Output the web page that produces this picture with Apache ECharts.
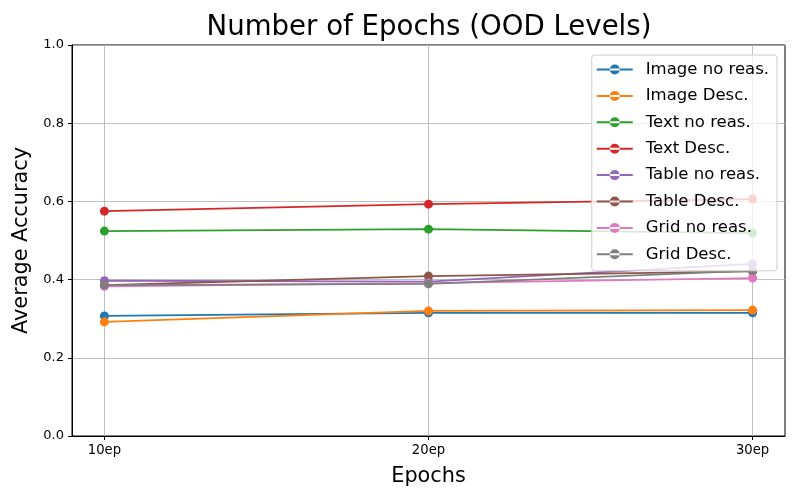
<!DOCTYPE html>
<html><head><meta charset="utf-8">
<script src="https://cdn.jsdelivr.net/npm/echarts@6/dist/echarts.min.js"></script>
<style>html,body{margin:0;padding:0;background:#fff}#c{width:800px;height:500px}</style>
</head><body><div id="c"></div>
<script>
const epochs = [10, 20, 30];
const tickLabels = ['10ep', '20ep', '30ep'];
const seriesNames = ['Image no reas.', 'Image Desc.', 'Text no reas.', 'Text Desc.', 'Table no reas.', 'Table Desc.', 'Grid no reas.', 'Grid Desc.'];
const imageNoReas = [0.307, 0.315, 0.315];
const imageDesc = [0.292, 0.320, 0.322];
const textNoReas = [0.524, 0.529, 0.519];
const textDesc = [0.575, 0.593, 0.606];
const tableNoReas = [0.397, 0.395, 0.440];
const tableDesc = [0.386, 0.409, 0.421];
const gridNoReas = [0.383, 0.391, 0.404];
const gridDesc = [0.386, 0.389, 0.423];
const colors = ['#1f77b4', '#ff7f0e', '#2ca02c', '#d62728', '#9467bd', '#8c564b', '#e377c2', '#7f7f7f'];
const allValues = [imageNoReas, imageDesc, textNoReas, textDesc, tableNoReas, tableDesc, gridNoReas, gridDesc];

const chart = echarts.init(document.getElementById('c'), null, {renderer: 'canvas'});
const font = 'DejaVu Sans';
const series = seriesNames.map((n, i) => ({
  name: n, type: 'line',
  data: epochs.map((e, j) => [e, allValues[i][j]]),
  symbol: 'circle', symbolSize: 9,
  lineStyle: {width: 1.8, color: colors[i]},
  itemStyle: {color: colors[i]},
  z: 3
}));
series[0].markLine = {
  silent: true, symbol: 'none', label: {show: false},
  lineStyle: {color: '#b0b0b0', width: 0.8, type: 'solid'},
  data: epochs.map(e => ({xAxis: e})),
  z: 1
};
chart.setOption({
  animation: false,
  color: colors,
  title: {text: 'Number of Epochs (OOD Levels)', left: 424, top: 9, textAlign: 'center',
    textStyle: {fontFamily: font, fontSize: 27.6, fontWeight: 'normal', color: '#000'}},
  grid: {left: 72, right: 15, top: 45, bottom: 64, show: true, borderColor: '#000', borderWidth: 1, backgroundColor: 'transparent'},
  legend: {
    right: 23, top: 55, orient: 'vertical', itemGap: 9.4, itemWidth: 36, itemHeight: 16,
    backgroundColor: 'rgba(255,255,255,0.8)', borderColor: '#cccccc', borderWidth: 1, borderRadius: 3,
    padding: [6, 8, 8, 5],
    textStyle: {fontFamily: font, fontSize: 16.5, color: '#000', padding: [0, 0, 0, 8]},
    icon: 'path://M0,7 L36,7 L36,9 L0,9 Z M13,8 A5,5 0 1,0 23,8 A5,5 0 1,0 13,8 Z',
    z: 10
  },
  xAxis: {
    type: 'value', min: 9, max: 31,
    name: 'Epochs', nameLocation: 'middle', nameGap: 30,
    nameTextStyle: {fontFamily: font, fontSize: 20.8, color: '#000'},
    axisLine: {show: true, lineStyle: {color: '#000'}},
    axisTick: {show: true, customValues: epochs, length: 4, lineStyle: {color: '#000'}},
    axisLabel: {customValues: epochs, fontFamily: font, fontSize: 13.2, color: '#000',
      formatter: v => tickLabels[epochs.indexOf(v)] || ''},
    splitLine: {show: false}
  },
  yAxis: {
    type: 'value', min: 0, max: 1, interval: 0.2,
    name: 'Average Accuracy', nameLocation: 'middle', nameGap: 32,
    nameTextStyle: {fontFamily: font, fontSize: 20.8, color: '#000'},
    axisLine: {show: true, lineStyle: {color: '#000'}},
    axisTick: {show: true, length: 4, lineStyle: {color: '#000'}},
    axisLabel: {fontFamily: font, fontSize: 13, color: '#000', formatter: v => v.toFixed(1)},
    splitLine: {show: true, lineStyle: {color: '#b0b0b0', width: 0.8}}
  },
  series: series
});
</script></body></html>
